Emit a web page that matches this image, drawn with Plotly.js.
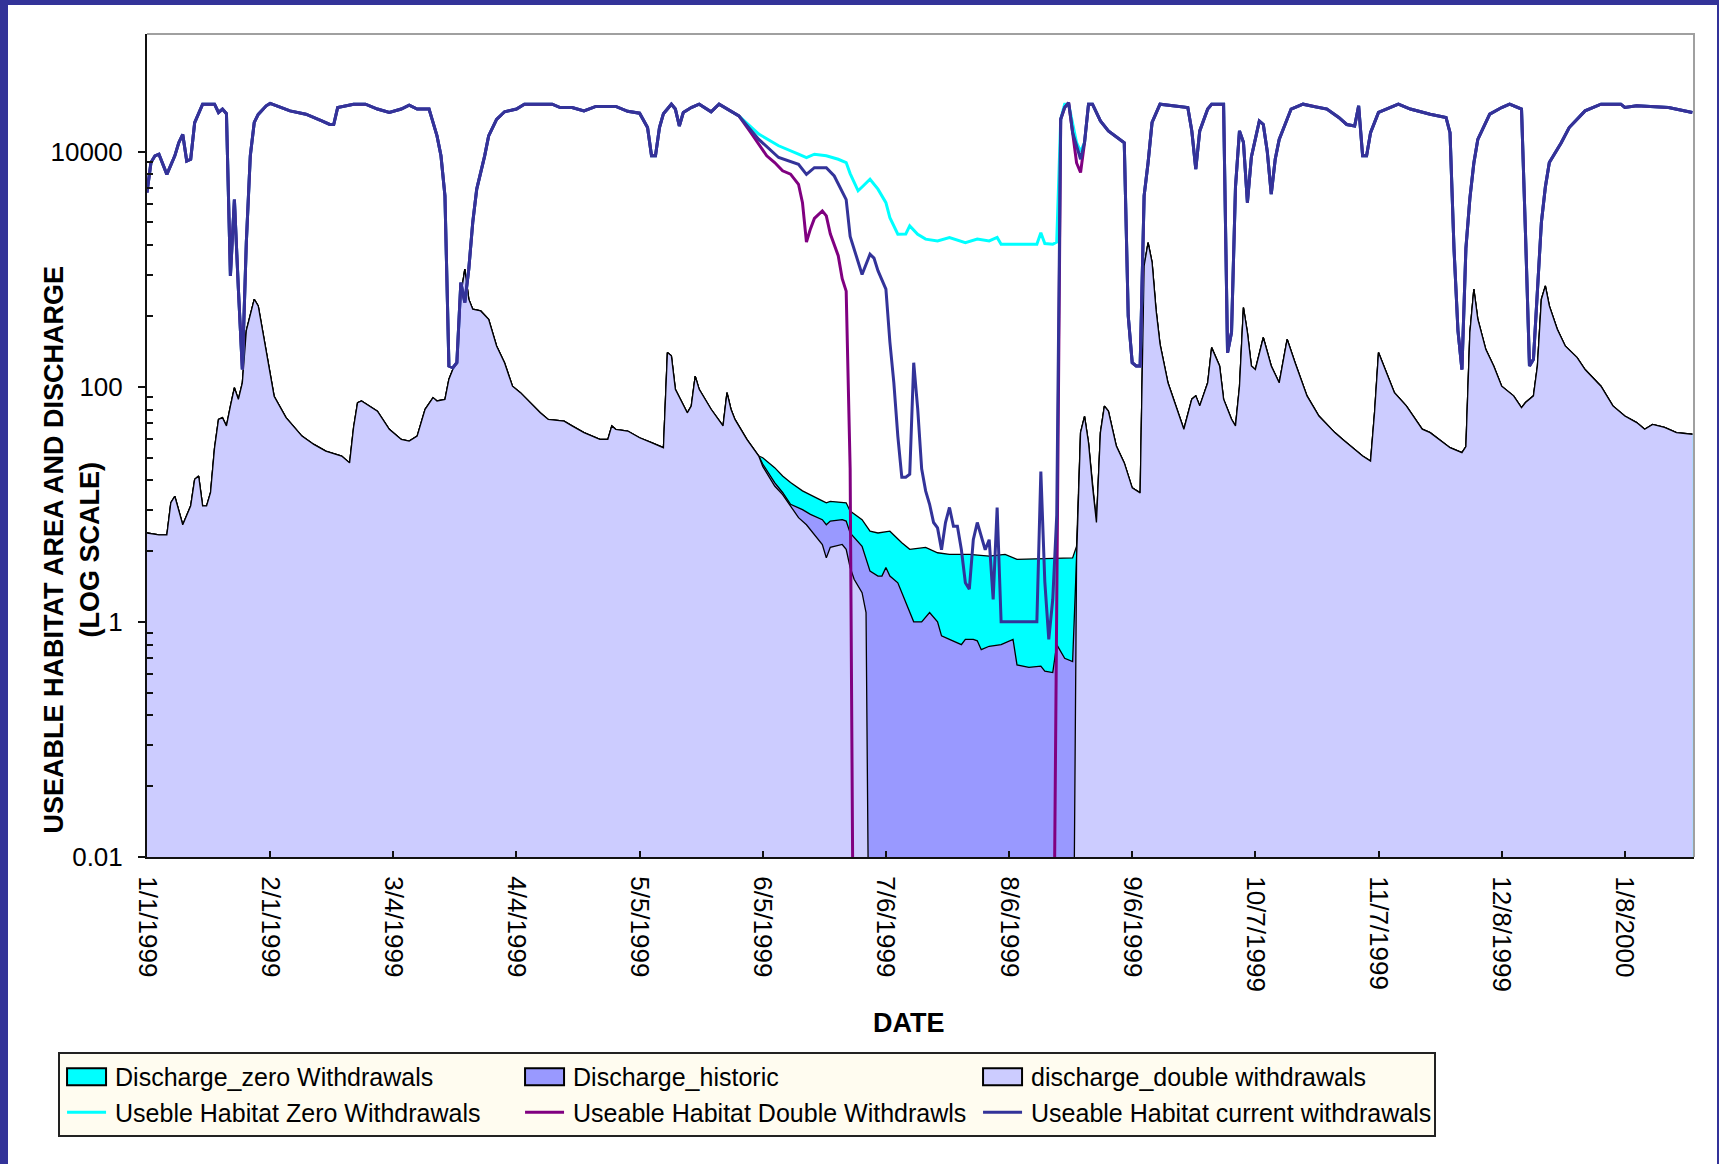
<!DOCTYPE html>
<html>
<head>
<meta charset="utf-8">
<script src="https://cdn.plot.ly/plotly-3.0.1.min.js"></script>
<style>
  html, body { margin: 0; padding: 0; background: #333399; width: 1719px; height: 1164px; overflow: hidden; }
  #chart { position: absolute; left: 8px; top: 5px; width: 1709px; height: 1159px; background: #ffffff; }
</style>
</head>
<body>
<div id="chart"></div>
<script>
// ---------------- DATA (day offsets from 1999-01-01) ----------------
const startDate = '1999-01-01';

// Useable habitat: common part before the dry period (all three scenarios overlap)
const habPreDay = [0,1,2,3,5,7,8,9,10,11,12,14,17,18,19,20,21,22,23,24,25,26,27,28,30,31,36,40,44,46,47,48,52,55,58,61,64,66,68,71,72,73,74,75,76,77,78,79,80,81,82,83,85,86,88,90,93,95,102,104,107,110,113,118,121,124,126,127,128,129,130,132,133,134,135,137,139,142,144,146,149];
const habPre    = [4480,8070,9200,9500,6400,9200,11900,14000,8300,8600,17600,25300,25300,21500,23000,21000,875,3900,680,140,1680,9200,17700,20700,24500,25700,22200,20800,18200,17000,17000,23700,25300,25300,23000,21500,23000,24800,23000,23000,17700,13600,9200,4200,150,145,160,767,520,1000,2500,4800,9200,13600,18800,21800,23000,25300,25300,23700,23700,22200,24200,24200,22000,21200,16000,9200,9200,16000,21000,25300,23000,16500,21500,23700,25300,21800,25300,23000,20100];

// Useable habitat current withdrawals, dry period
const curMidDay = [154,159,164,166,168,171,173,176,177,179,180,182,183,184,186,187,188,189,190,191,192,193,194,195,196,197,198,199,200,201,202,203,204,205,206,207,208,209,210,211,212,213,214,215,224,225,226,227,228,229,230,231,232,233,234,235,236];
const curMid    = [12700,8900,7800,6400,7300,7300,6200,3900,1900,1140,900,1340,1240,970,675,240,108,38,17,17,18,160,65,20,13,10,7,6.3,4.1,7,9.4,6.5,6.5,4.1,2.15,1.9,5,7,5.4,4.1,5,1.55,9.4,1.0,1.0,19,2.2,0.71,1.55,8,18800,23700,26100,14500,11200,8600,12000];

// Useble habitat zero withdrawals, dry period
const zeroMidDay = [154,159,164,166,168,171,174,176,177,179,180,182,184,186,187,189,191,192,194,196,199,202,206,209,212,214,215,224,225,226,228,229,230,231,232,233,234,235,236];
const zeroMid    = [14100,11200,9500,8900,9500,9200,8600,8070,6500,4640,5000,5820,4790,3680,2740,1980,1990,2330,1980,1800,1740,1860,1680,1800,1740,1860,1630,1630,2040,1650,1630,1700,18800,25300,25300,17700,11900,10000,11900];

// Useable habitat double withdrawals, dry period (falls to ~0, below the axis)
const dblMidDay = [152,156,158,160,162,164,165,166,167,168,170,171,172,173,174,175,176,177,178,228,229,230,231,232,233,234,235,236];
const dblMid    = [14500,9200,8070,6860,6430,5270,3680,1700,2200,2700,3130,2840,2000,1600,1300,830,650,20,0.0001,0.0001,0.76,18800,23700,26100,14500,8000,6640,11900];

// Useable habitat: common part after the dry period
const habPostDay = [237,238,240,242,246,247,248,249,250,251,252,253,255,262,263,264,265,267,268,271,272,273,274,275,276,277,278,280,281,282,283,284,285,288,291,294,297,300,302,304,305,306,307,308,310,315,318,323,327,328,329,330,331,332,333,334,335,338,341,343,346,347,348,349,350,351,352,353,356,358,362,366,371,372,375,383,389];
const habPost    = [25300,25300,18200,15000,11900,400,160,150,150,4200,8070,17700,25300,23700,15000,7100,15000,23000,25300,25300,195,290,5000,15000,12000,3680,9000,18200,17000,10000,4340,8600,12700,23000,25300,24000,23000,19500,17000,16500,24500,9200,9200,14500,21500,25300,23000,20800,19500,14500,1500,300,140,1500,4000,8000,12700,20800,23700,25300,23000,2000,150,171,700,2500,5000,8070,11900,16000,22200,25300,25300,23700,24500,23700,21500];

// Discharge: common part before the dry period
const qPreDay = [0,3,5,6,7,9,11,12,13,14,15,16,17,18,19,20,21,22,23,24,25,27,28,30,32,35,39,42,45,49,51,52,53,54,58,61,64,66,68,70,72,73,75,76,77,78,79,80,81,82,84,86,88,90,92,94,96,99,101,105,107,110,114,116,117,118,121,124,127,130,131,132,133,136,137,138,139,142,145,146,147,148,151,154];
const qPre    = [5.7,5.5,5.5,10.3,11.7,6.7,9.7,16.3,17.4,9.7,9.7,12.6,30,52.7,54.5,46.4,68.5,98,78,108,300,555,486,208,83,54.6,38,32.3,28.3,25.7,22.5,45,73,75.7,62,43.4,35.6,34.5,38,64.3,80.8,75.7,78,116,141,160,600,1000,555,456,441,375,222,160,101,89,75.7,60,52.7,51,46.4,40.7,35.6,35.6,46.4,43.4,42,36.8,33.4,30.3,195,183,95,60,68.5,123,95,64.3,46.4,89,64.3,52.7,35.6,25.7];

// Discharge zero withdrawals, dry period
const qZeroMidDay = [155,158,160,162,165,167,170,171,172,176,177,180,182,184,187,190,192,196,199,202,207,212,216,219,233,234];
const qZeroMid    = [24.9,20.5,17.4,15.3,13,12.1,10.7,10.3,10.6,10.3,8.75,7.4,5.9,5.7,5.9,4.7,4.14,4.3,3.87,3.75,3.75,3.63,3.75,3.4,3.5,4.4];

// Discharge historic, dry period
const qHistMidDay = [155,158,160,162,165,167,170,171,172,175,176,177,180,182,184,185,186,187,189,191,193,195,197,199,200,202,205,206,208,209,210,212,215,218,219,222,225,226,228,229,231,233,234];
const qHistMid    = [22,15.3,12.6,10,9,8.2,7.4,6.7,7.2,7.4,7.2,5.7,4.4,2.7,2.45,2.45,2.9,2.45,2.15,1.46,1.0,1.0,1.2,1.0,0.76,0.71,0.64,0.71,0.71,0.69,0.58,0.62,0.64,0.71,0.43,0.41,0.42,0.38,0.37,0.64,0.49,0.46,3.5];

// Discharge double withdrawals, dry period (falls to ~0, below the axis)
const qDblMidDay = [155,158,160,162,164,166,168,170,171,172,175,176,177,178,180,181,182,233,234];
const qDblMid    = [21,14.3,12.1,9.7,7.7,6.7,5.5,4.55,3.5,4.3,4.55,4.14,2.9,2.3,1.77,1.2,0.0001,0.0001,3.5];

// Discharge: common part after the dry period
const qLateDay = [235,236,237,238,239,240,241,242,244,246,248,250,251,252,253,254,255,257,260,261,263,264,265,267,268,270,271,273,274,275,276,277,278,279,281,283,285,287,289,292,295,299,301,304,306,308,309,310,311,314,317,321,323,328,331,332,333,334,335,337,339,341,344,346,347,349,350,351,352,353,355,357,360,362,366,369,372,375,377,379,382,385,389];
const qLate    = [40.7,56,33.4,14.3,7,40.7,68.5,62,31.3,22.5,13.8,12.5,1067,1680,1140,450,230,108,56.3,43.5,78.3,83.6,68.7,108,215,150,78.3,52.8,46.4,100,472,289,150,140,262,150,108,253,160,83.6,56.3,40.7,35.6,29.3,25.7,23.3,60,195,160,89,68.7,43.5,40.7,30.3,27.5,31,289,675,375,208,150,101,83.6,66.4,73.3,83.6,150,555,720,487,308,222,177,140,101,68.7,56.3,49.5,43.5,47.8,45.1,40.7,39.4];

// Axis labels
const xTickDates  = ['1999-01-01','1999-02-01','1999-03-04','1999-04-04','1999-05-05','1999-06-05','1999-07-06','1999-08-06','1999-09-06','1999-10-07','1999-11-07','1999-12-08','2000-01-08'];
const xTickLabels = ['1/1/1999','2/1/1999','3/4/1999','4/4/1999','5/5/1999','6/5/1999','7/6/1999','8/6/1999','9/6/1999','10/7/1999','11/7/1999','12/8/1999','1/8/2000'];
const yTickVals   = [0.01, 1, 100, 10000];
const yTickLabels = ['0.01', '1', '100', '10000'];

const seriesNames = [
  'Discharge_zero Withdrawals',
  'Discharge_historic',
  'discharge_double withdrawals',
  'Useble Habitat Zero Withdrawals',
  'Useable Habitat Double Withdrawls',
  'Useable Habitat current withdrawals'
];

// ---------------- BUILD ----------------
const START = Date.parse(startDate + 'T00:00:00Z');
function toDate(d) { return new Date(START + d * 86400000).toISOString().slice(0, 10); }
function dates() { return [].concat.apply([], arguments).map(toDate); }
function vals() { return [].concat.apply([], arguments); }

// minor log ticks as in the original (m^2 steps inside each 100x interval)
const minorTicks = [];
[0.01, 1, 100].forEach(function (b) { for (let m = 2; m <= 9; m++) minorTicks.push(b * m * m); });

const FONT = 'Liberation Sans, Arial, sans-serif';
const areaLine = { color: '#000000', width: 1.3 };

const traces = [
  { name: seriesNames[0], x: dates(qPreDay, qZeroMidDay, qLateDay), y: vals(qPre, qZeroMid, qLate),
    mode: 'lines', line: areaLine, fill: 'tozeroy', fillcolor: '#00FFFF' },
  { name: seriesNames[1], x: dates(qPreDay, qHistMidDay, qLateDay), y: vals(qPre, qHistMid, qLate),
    mode: 'lines', line: areaLine, fill: 'tozeroy', fillcolor: '#9999FF' },
  { name: seriesNames[2], x: dates(qPreDay, qDblMidDay, qLateDay), y: vals(qPre, qDblMid, qLate),
    mode: 'lines', line: areaLine, fill: 'tozeroy', fillcolor: '#CCCCFF' },
  { name: seriesNames[3], x: dates(habPreDay, zeroMidDay, habPostDay), y: vals(habPre, zeroMid, habPost),
    mode: 'lines', line: { color: '#00FFFF', width: 3 } },
  { name: seriesNames[4], x: dates(habPreDay, dblMidDay, habPostDay), y: vals(habPre, dblMid, habPost),
    mode: 'lines', line: { color: '#800080', width: 3 } },
  { name: seriesNames[5], x: dates(habPreDay, curMidDay, habPostDay), y: vals(habPre, curMid, habPost),
    mode: 'lines', line: { color: '#333399', width: 3 } }
];

const layout = {
  width: 1709, height: 1159,
  margin: { l: 139, r: 23, t: 29, b: 307, autoexpand: false },
  paper_bgcolor: '#ffffff', plot_bgcolor: '#ffffff',
  showlegend: true,
  hovermode: false,
  font: { family: FONT, color: '#000000' },
  xaxis: {
    type: 'date',
    range: ['1999-01-01', '2000-01-25 10:00'],
    showgrid: false, zeroline: false,
    showline: true, linecolor: '#111111', linewidth: 2,
    ticks: 'inside', ticklen: 6, tickwidth: 2, tickcolor: '#111111',
    tickmode: 'array', tickvals: xTickDates, ticktext: xTickLabels,
    tickangle: 90, ticklabelstandoff: 12,
    tickfont: { family: FONT, size: 26, color: '#000000' }
  },
  yaxis: {
    type: 'log',
    range: [-2, 5],
    showgrid: false, zeroline: false,
    showline: true, linecolor: '#111111', linewidth: 2,
    ticks: 'outside', ticklen: 7, tickwidth: 2, tickcolor: '#111111',
    tickmode: 'array', tickvals: yTickVals, ticktext: yTickLabels,
    ticklabelstandoff: 10,
    tickfont: { family: FONT, size: 26, color: '#000000' },
    minor: { tickmode: 'array', tickvals: minorTicks, ticks: 'inside', ticklen: 6, tickwidth: 2, tickcolor: '#111111', showgrid: false }
  },
  legend: {
    orientation: 'h',
    x: -0.0575, xanchor: 'left',
    y: -0.2369, yanchor: 'top',
    bgcolor: '#FFFCF0', bordercolor: '#222222', borderwidth: 2,
    font: { family: FONT, size: 25, color: '#000000' },
    itemwidth: 45,
    entrywidth: 398, entrywidthmode: 'pixels',
    traceorder: 'normal',
    tracegroupgap: 0
  },
  shapes: [
    { type: 'path', xref: 'paper', yref: 'paper', path: 'M 0 1 L 1 1 L 1 0',
      line: { color: '#A0A0A0', width: 2 } }
  ],
  annotations: [
    { xref: 'paper', yref: 'paper', x: -0.0488, y: 0.373, xanchor: 'center', yanchor: 'middle',
      text: '<b>USEABLE HABITAT AREA AND DISCHARGE<br>(LOG SCALE)</b>', textangle: -90, showarrow: false,
      font: { family: FONT, size: 27, color: '#000000' } },
    { xref: 'paper', yref: 'paper', x: 0.4926, y: -0.2017, xanchor: 'center', yanchor: 'middle',
      text: '<b>DATE</b>', showarrow: false,
      font: { family: FONT, size: 27, color: '#000000' } }
  ]
};

const gd = document.getElementById('chart');
Plotly.newPlot(gd, traces, layout, { staticPlot: true, displayModeBar: false, responsive: false }).then(function () {
  // legend: boxed swatches for the area series and short line swatches, as in the original legend
  gd.querySelectorAll('.legend .traces').forEach(function (item) {
    const fillPath = item.querySelector('.legendfill path');
    const ln = item.querySelector('.legendlines path');
    if (fillPath) {
      fillPath.setAttribute('d', 'M7,-8.5h39v17h-39z');
      fillPath.style.stroke = '#000000';
      fillPath.style.strokeWidth = '2px';
      if (ln) ln.style.display = 'none';
    } else if (ln) {
      ln.setAttribute('d', 'M7,0h39');
    }
  });
});
</script>
</body>
</html>
